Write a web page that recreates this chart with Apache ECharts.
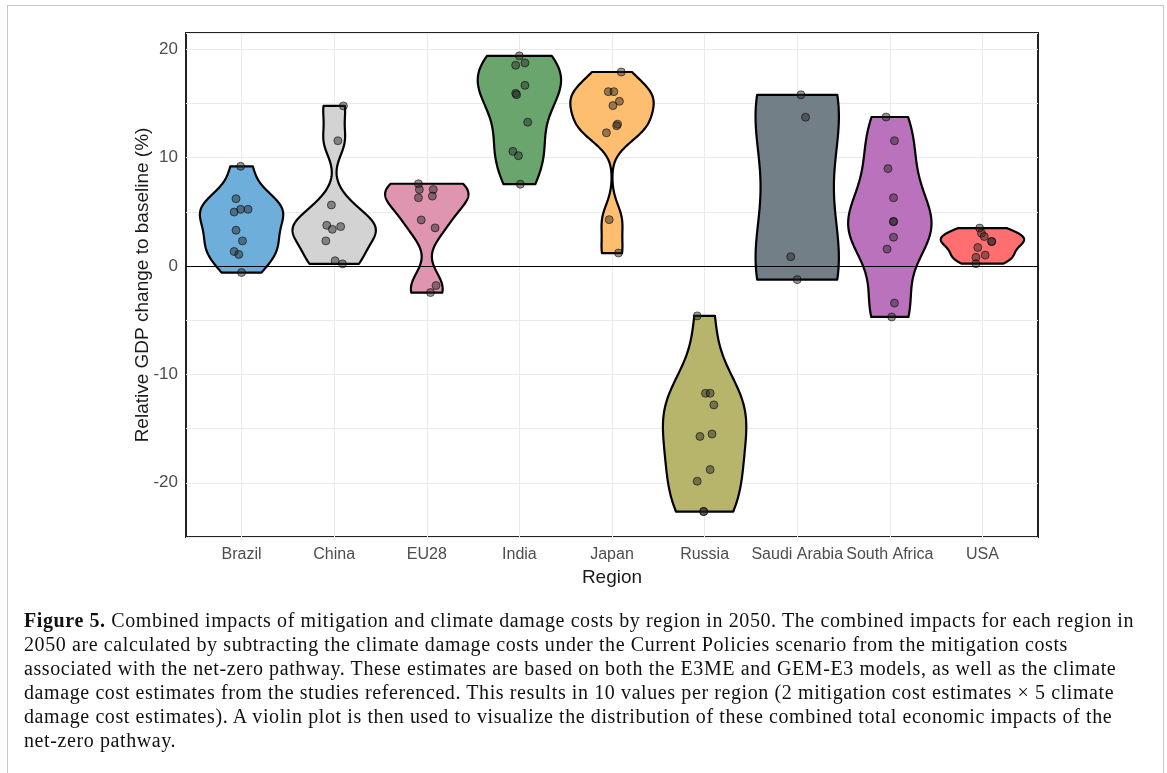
<!DOCTYPE html>
<html>
<head>
<meta charset="utf-8">
<script src="https://cdn.jsdelivr.net/npm/echarts@6/dist/echarts.min.js"></script>
<style>
html,body{margin:0;padding:0;background:#fff;overflow:hidden;}
#frame{position:absolute;left:7px;top:5px;width:1155px;height:800px;border:1px solid #c8c8c8;border-bottom:none;}
#chart{position:absolute;left:0;top:0;width:1167px;height:773px;}
#caption{position:absolute;left:24px;top:608px;font-family:'Liberation Serif','DejaVu Serif',serif;font-size:20px;letter-spacing:0.6px;line-height:24px;color:#111;white-space:nowrap;}
</style>
</head>
<body>
<div id="frame"></div>
<div id="chart"></div>
<div id="caption"><b>Figure 5.</b> Combined impacts of mitigation and climate damage costs by region in 2050. The combined impacts for each region in<br>2050 are calculated by subtracting the climate damage costs under the Current Policies scenario from the mitigation costs<br>associated with the net-zero pathway. These estimates are based on both the E3ME and GEM-E3 models, as well as the climate<br>damage cost estimates from the studies referenced. This results in 10 values per region (2 mitigation cost estimates × 5 climate<br>damage cost estimates). A violin plot is then used to visualize the distribution of these combined total economic impacts of the<br>net-zero pathway.</div>
<script>
// ---- data ----
const regions = ['Brazil', 'China', 'EU28', 'India', 'Japan', 'Russia', 'Saudi Arabia', 'South Africa', 'USA'];
const colors = ['#6DAEDB', '#D3D3D3', '#DF94AF', '#6BA56E', '#FDBE6F', '#B7B56C', '#737F87', '#BA72BC', '#FF6F6F'];

const brazilValues = [9.2, 6.21, 4.98, 5.23, 5.23, 3.30, 2.32, 1.34, 1.07, -0.6];
const brazilJitter = [-0.01, -0.06, -0.08, -0.01, 0.07, -0.06, 0.01, -0.08, -0.03, 0.00];
const chinaValues = [14.77, 11.56, 5.63, 3.76, 3.39, 3.64, 2.32, 0.49, 0.2];
const chinaJitter = [0.10, 0.04, -0.03, -0.08, -0.02, 0.07, -0.09, 0.01, 0.09];
const eu28Values = [7.59, 7.06, 6.30, 7.06, 6.45, 4.25, 3.52, -1.80, -2.45];
const eu28Jitter = [-0.09, -0.08, -0.09, 0.07, 0.06, -0.06, 0.09, 0.10, 0.04];
const indiaValues = [19.39, 18.53, 18.74, 16.67, 15.93, 15.81, 13.27, 10.58, 10.18, 7.55];
const indiaJitter = [0.00, -0.04, 0.06, 0.06, -0.04, -0.03, 0.09, -0.07, -0.01, 0.01];
const japanValues = [17.9, 16.09, 16.09, 15.20, 14.80, 13.09, 12.94, 12.29, 4.28, 1.2];
const japanJitter = [0.10, -0.04, 0.02, 0.08, 0.01, 0.06, 0.05, -0.06, -0.03, 0.07];
const russiaValues = [-4.6, -11.74, -11.74, -12.81, -15.50, -15.72, -18.78, -19.85, -22.65, -22.65];
const russiaJitter = [-0.08, 0.01, 0.06, 0.10, 0.08, -0.05, 0.06, -0.08, -0.01, -0.01];
const saudiValues = [15.8, 13.73, 0.86, -1.25];
const saudiJitter = [0.04, 0.09, -0.07, 0.00];
const southAfricaValues = [13.75, 11.56, 8.99, 6.30, 4.10, 4.10, 2.66, 1.56, -3.42, -4.7];
const southAfricaJitter = [-0.04, 0.05, -0.02, 0.04, 0.04, 0.04, 0.04, -0.03, 0.05, 0.02];
const usaValues = [3.5, 3.03, 2.72, 2.26, 2.26, 1.71, 1.01, 0.80, 0.22];
const usaJitter = [-0.03, -0.01, 0.02, 0.10, 0.10, -0.05, 0.03, -0.07, -0.07];

const yTickLabels = [-20, -10, 0, 10, 20];

const allValues = [brazilValues, chinaValues, eu28Values, indiaValues, japanValues, russiaValues, saudiValues, southAfricaValues, usaValues];
const allJitter = [brazilJitter, chinaJitter, eu28Jitter, indiaJitter, japanJitter, russiaJitter, saudiJitter, southAfricaJitter, usaJitter];

// ---- violin density (gaussian KDE, bw.nrd0, trimmed, scaled to equal width) ----
function quantile(s, p) {
  const h = (s.length - 1) * p, lo = Math.floor(h);
  const hi = Math.min(lo + 1, s.length - 1);
  return s[lo] + (h - lo) * (s[hi] - s[lo]);
}
function bwNrd0(x) {
  const n = x.length;
  const m = x.reduce((a, b) => a + b, 0) / n;
  const sd = Math.sqrt(x.reduce((a, b) => a + (b - m) * (b - m), 0) / (n - 1));
  const s = [...x].sort((a, b) => a - b);
  const iqr = quantile(s, 0.75) - quantile(s, 0.25);
  let lo = Math.min(sd, iqr / 1.34);
  if (!(lo > 0)) lo = sd || Math.abs(s[0]) || 1;
  return 0.9 * lo * Math.pow(n, -0.2);
}
function profile(vals) {
  const bw = bwNrd0(vals);
  const lo = Math.min(...vals), hi = Math.max(...vals);
  const N = 256, out = [];
  let dmax = 0;
  for (let k = 0; k < N; k++) {
    const y = lo + (hi - lo) * k / (N - 1);
    let d = 0;
    vals.forEach(v => { const z = (y - v) / bw; d += Math.exp(-0.5 * z * z); });
    out.push({ y: y, d: d });
    if (d > dmax) dmax = d;
  }
  return out.map(p => ({ y: p.y, w: 0.45 * p.d / dmax }));
}
const profiles = allValues.map(profile);

const pointData = [];
allValues.forEach((vals, i) => vals.forEach((v, k) => pointData.push([i + allJitter[i][k], v])));

const chart = echarts.init(document.getElementById('chart'), null, { renderer: 'canvas' });
const catIdx = regions.map((_, i) => i);
chart.setOption({
  animation: false,
  grid: { left: 186, right: 129, top: 33, bottom: 236, show: true, borderColor: '#222', borderWidth: 2, backgroundColor: 'transparent' },
  xAxis: {
    type: 'value', min: -0.6, max: 8.6,
    axisLine: { show: false },
    axisTick: { show: false, customValues: catIdx },
    splitLine: { show: true, lineStyle: { color: '#ebebeb', width: 1 } },
    axisLabel: { customValues: catIdx, formatter: v => regions[Math.round(v)], color: '#4d4d4d', fontSize: 16, fontFamily: 'Liberation Sans', margin: 10 },
    name: 'Region', nameLocation: 'middle', nameGap: 30,
    nameTextStyle: { fontSize: 19, color: '#1a1a1a', fontFamily: 'Liberation Sans' }
  },
  yAxis: {
    type: 'value', min: -25, max: 21.5, interval: 5,
    axisLine: { show: false },
    axisTick: { show: false },
    splitLine: { show: true, lineStyle: { color: '#ebebeb', width: 1 } },
    axisLabel: { formatter: v => (yTickLabels.indexOf(v) >= 0 ? String(v) : ''), color: '#4d4d4d', fontSize: 17, fontFamily: 'Liberation Sans', margin: 8, showMinLabel: true, showMaxLabel: true },
    name: 'Relative GDP change to baseline (%)', nameLocation: 'middle', nameGap: 34, nameMoveOverlap: false,
    nameTextStyle: { fontSize: 19, color: '#1a1a1a', fontFamily: 'Liberation Sans' }
  },
  series: [
    {
      type: 'custom', z: 2, clip: true,
      data: regions.map((_, i) => [i, 0]),
      renderItem: function (params, api) {
        const i = params.dataIndex;
        const prof = profiles[i];
        const pts = [];
        prof.forEach(p => pts.push(api.coord([i + p.w, p.y])));
        for (let k = prof.length - 1; k >= 0; k--) pts.push(api.coord([i - prof[k].w, prof[k].y]));
        return { type: 'polygon', shape: { points: pts }, style: { fill: colors[i], stroke: '#000', lineWidth: 2.2, lineJoin: 'round' } };
      }
    },
    {
      type: 'scatter', z: 4,
      data: pointData,
      symbolSize: 8,
      itemStyle: { color: 'rgba(40,40,40,0.6)', borderColor: 'rgba(0,0,0,0.7)', borderWidth: 1 },
      markLine: {
        silent: true, symbol: ['none', 'none'], label: { show: false },
        lineStyle: { color: '#000', width: 1, type: 'solid' },
        data: [{ yAxis: 0 }]
      }
    }
  ]
});
</script>
</body>
</html>
